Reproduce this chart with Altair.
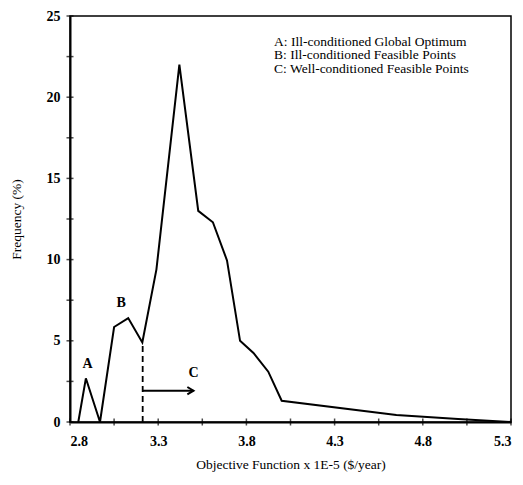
import altair as alt
import pandas as pd

# Curve data
obj_x = [2.847, 2.89, 2.97, 3.05, 3.13, 3.21, 3.29, 3.42, 3.527, 3.61, 3.69, 3.764, 3.84, 3.924, 4.0, 4.65, 5.0, 5.3]
freq_y = [0.0, 2.69, 0.0, 5.85, 6.4, 4.9, 9.4, 22.0, 13.0, 12.3, 9.95, 5.0, 4.25, 3.1, 1.31, 0.43, 0.18, 0.0]

x_ticks = [2.8, 3.3, 3.8, 4.3, 4.8, 5.3]
x_minor = [2.8, 3.05, 3.3, 3.55, 3.8, 4.05, 4.3, 4.55, 4.8, 5.05, 5.3]
y_ticks = [0, 5, 10, 15, 20, 25]
y_minor = [0, 2.5, 5, 7.5, 10, 12.5, 15, 17.5, 20, 22.5, 25]

ann_text = ["A", "B", "C"]
ann_x = [2.90, 3.09, 3.50]
ann_y = [3.6, 7.35, 3.0]

legend_lines = ["A: Ill-conditioned Global Optimum",
                "B: Ill-conditioned Feasible Points",
                "C: Well-conditioned Feasible Points"]
legend_x = 3.957
legend_y = 23.4

cut_x = 3.212
cut_top = 4.9
arrow_end = 3.50
arrow_y = 1.93

FONT = "Liberation Serif"

xscale = alt.Scale(domain=[2.8, 5.3], nice=False, zero=False)
yscale = alt.Scale(domain=[0, 25], nice=False, zero=True)

curve_df = pd.DataFrame({"x": obj_x, "y": freq_y})

base_line = alt.Chart(curve_df).mark_line(color="black", strokeWidth=2).encode(
    x=alt.X("x:Q", scale=xscale,
            axis=alt.Axis(values=x_ticks, format=".1f", title="Objective Function x 1E-5 ($/year)",
                          ticks=False, labelPadding=12, titlePadding=9, grid=False,
                          domainColor="black", domainWidth=2,
                          labelFont=FONT, labelFontSize=14, labelFontWeight="bold",
                          labelColor="black", titleFont=FONT, titleFontSize=13.5,
                          titleFontWeight="normal", titleColor="black")),
    y=alt.Y("y:Q", scale=yscale,
            axis=alt.Axis(values=y_ticks, title="Frequency (%)", ticks=False,
                          labelPadding=10, titlePadding=23, grid=False,
                          domainColor="black", domainWidth=2,
                          labelFont=FONT, labelFontSize=14, labelFontWeight="bold",
                          labelColor="black", titleFont=FONT, titleFontSize=13.5,
                          titleFontWeight="normal", titleColor="black")),
)

xt_df = pd.DataFrame({"x": x_minor, "y": [0] * len(x_minor)})
xticks_layer = alt.Chart(xt_df).mark_tick(orient="vertical", color="black", size=7, thickness=1.5).encode(
    x=alt.X("x:Q", scale=xscale), y=alt.Y("y:Q", scale=yscale))

yt_df = pd.DataFrame({"x": [2.8] * len(y_minor), "y": y_minor})
yticks_layer = alt.Chart(yt_df).mark_tick(orient="horizontal", color="black", size=7, thickness=1.5).encode(
    x=alt.X("x:Q", scale=xscale), y=alt.Y("y:Q", scale=yscale))

cut_df = pd.DataFrame({"x": [cut_x], "y": [0], "y2": [cut_top]})
cut_layer = alt.Chart(cut_df).mark_rule(color="black", strokeWidth=1.8, strokeDash=[6, 4]).encode(
    x=alt.X("x:Q", scale=xscale), y=alt.Y("y:Q", scale=yscale), y2="y2:Q")

arrow_df = pd.DataFrame({"x": [cut_x], "x2": [arrow_end], "y": [arrow_y]})
arrow_layer = alt.Chart(arrow_df).mark_rule(color="black", strokeWidth=2).encode(
    x=alt.X("x:Q", scale=xscale), x2="x2:Q", y=alt.Y("y:Q", scale=yscale))

head_df = pd.DataFrame({"x": [arrow_end], "y": [arrow_y]})
head_layer = alt.Chart(head_df).mark_point(shape="M-1,-0.6L0,0L-1,0.6", filled=False, color="black",
                                          strokeWidth=2, size=150, opacity=1).encode(
    x=alt.X("x:Q", scale=xscale), y=alt.Y("y:Q", scale=yscale))

ann_df = pd.DataFrame({"t": ann_text, "x": ann_x, "y": ann_y})
ann_layer = alt.Chart(ann_df).mark_text(font=FONT, fontSize=14, fontWeight="bold", color="black").encode(
    x=alt.X("x:Q", scale=xscale), y=alt.Y("y:Q", scale=yscale), text="t:N")

leg_df = pd.DataFrame({"t": ["\n".join(legend_lines)], "x": [legend_x], "y": [legend_y]})
leg_layer = alt.Chart(leg_df).mark_text(font=FONT, fontSize=13.5, align="left", baseline="middle",
                                        lineBreak="\n", lineHeight=13.5, color="black").encode(
    x=alt.X("x:Q", scale=xscale), y=alt.Y("y:Q", scale=yscale), text="t:N")

chart = alt.layer(base_line, xticks_layer, yticks_layer, cut_layer, arrow_layer, head_layer,
                  ann_layer, leg_layer).properties(
    width=441, height=406,
    autosize=alt.AutoSizeParams(type="none"),
    padding={"left": 62, "top": 8, "right": 4, "bottom": 55},
    background="white",
).configure_view(stroke="black", strokeWidth=1.5)

chart.save("out.html", embed_options={"renderer": "svg", "actions": False})
